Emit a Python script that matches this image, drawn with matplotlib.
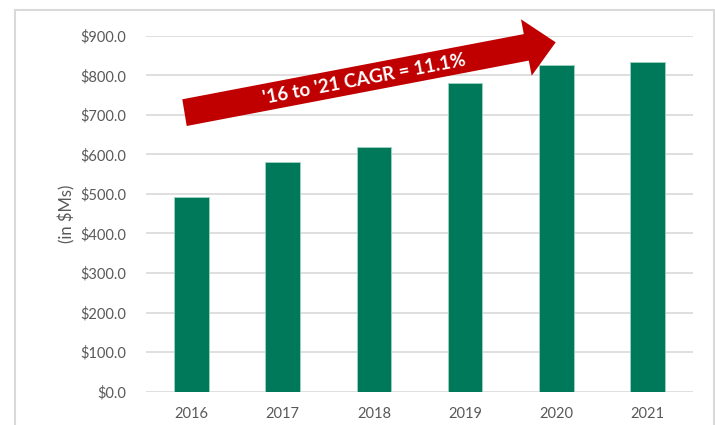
import matplotlib.pyplot as plt
from matplotlib.patches import Polygon
from matplotlib.lines import Line2D
from matplotlib.ticker import FuncFormatter

# data
years = ['2016', '2017', '2018', '2019', '2020', '2021']
revenue = [492.0, 580.0, 619.0, 780.0, 826.0, 833.0]
cagr_label = "'16 to '21 CAGR = 11.1%"
y_label = '(in $Ms)'

W, H = 715, 425
GREEN = '#00785A'
RED = '#C00000'
GRAY = '#595959'
GRID = '#D9D9D9'

plt.rcParams['font.family'] = ['Lato', 'DejaVu Sans']

fig = plt.figure(figsize=(W / 100, H / 100), dpi=100)


def fx(px):
    return px / W


def fy(py):
    return 1 - py / H


# axes placed to match the reference plot area
ax = fig.add_axes([fx(146), fy(391.7), fx(693) - fx(146), fy(35.7) - fy(391.7)])
x = range(len(years))
ax.bar(x, revenue, width=0.38, color=GREEN, edgecolor='#9FD3C0', linewidth=0.6, zorder=3)
ax.set_xlim(-0.5, len(years) - 0.5)
ax.set_ylim(0, 900)
ax.set_yticks(range(0, 901, 100))
ax.yaxis.set_major_formatter(FuncFormatter(lambda v, p: '${:.1f}'.format(v)))
ax.set_xticks(list(x))
ax.set_xticklabels(years)
ax.grid(axis='y', color=GRID, linewidth=1.2, zorder=0)
for s in ax.spines.values():
    s.set_visible(False)
ax.tick_params(axis='both', length=0, colors=GRAY, labelsize=10.5)
ax.tick_params(axis='y', pad=14)
ax.tick_params(axis='x', pad=11)

fig.text(fx(67), fy(214), y_label, rotation=90, color=GRAY, fontsize=12,
         ha='center', va='center')

# chart frame (cropped at the bottom like the reference)
for xs, ys in [([15, 15], [10, 430]), ([15, 714], [10, 10]), ([714, 714], [10, 430])]:
    fig.add_artist(Line2D([fx(v) for v in xs], [fy(v) for v in ys], color=GRID, linewidth=1.5))

# CAGR arrow
arrow_px = [(182.3, 99.3), (523.8, 34.1), (521.0, 19.3), (555.7, 42.3),
            (531.7, 75.7), (528.8, 60.6), (186.7, 126.0)]
fig.add_artist(Polygon([(fx(a), fy(b)) for a, b in arrow_px], closed=True,
                       facecolor=RED, edgecolor='none', zorder=5))
fig.text(fx(364), fy(79), cagr_label, rotation=10.8, rotation_mode='anchor',
         color='white', fontsize=13.5, fontweight='bold', ha='center', va='center', zorder=6)

fig.savefig('out.png', dpi=100)
